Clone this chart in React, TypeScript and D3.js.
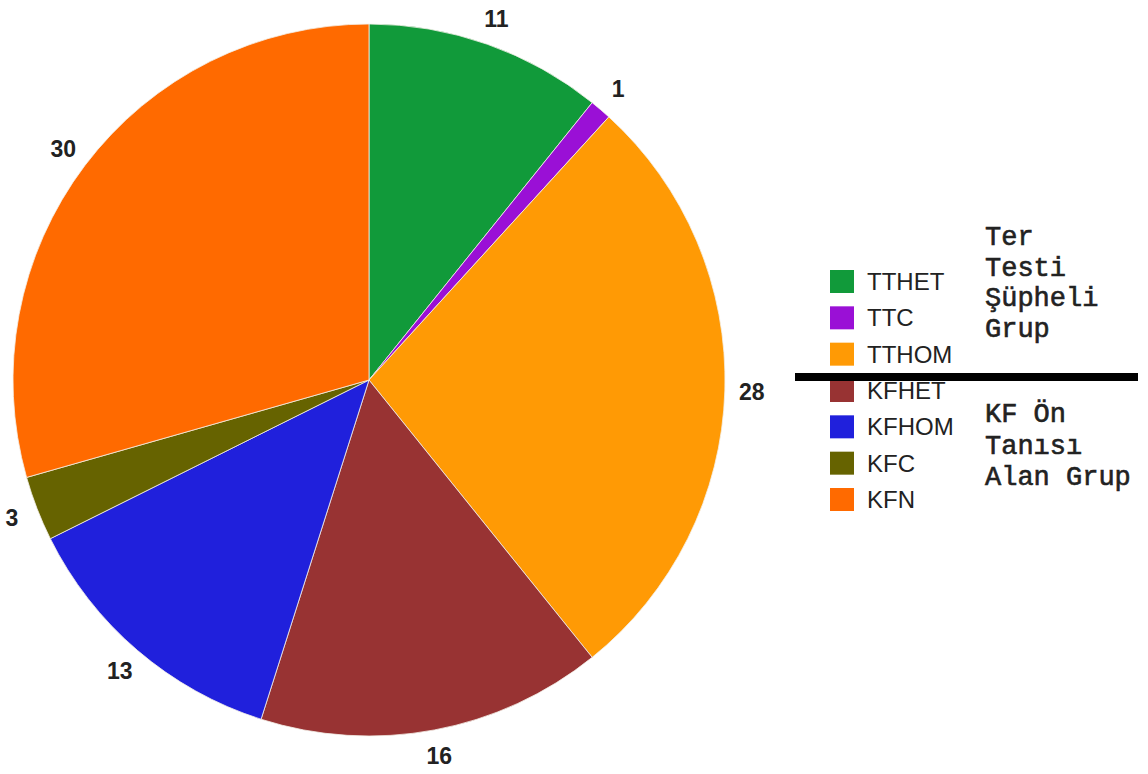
import React from "react";
import * as d3 from "d3";

const categories = ["TTHET", "TTC", "TTHOM", "KFHET", "KFHOM", "KFC", "KFN"];
const values = [11, 1, 28, 16, 13, 3, 30];
const colors = ["#119a3a", "#9a10d6", "#ff9a05", "#983333", "#2020dc", "#666300", "#ff6a00"];
const groupTop = ["Ter", "Testi", "Şüpheli", "Grup"];
const groupBottom = ["KF Ön", "Tanısı", "Alan Grup"];

const W = 1148;
const H = 774;
const cx = 369;
const cy = 380;
const R = 356;
const labelR = 383;

export default function App() {
  const data = categories.map((c, i) => ({ name: c, value: values[i], color: colors[i] }));
  const pie = d3.pie<any>().sort(null).value((d: any) => d.value).startAngle(0).endAngle(2 * Math.PI);
  const arcs = pie(data);
  const arc = d3.arc<any>().innerRadius(0).outerRadius(R);
  const labelArc = d3.arc<any>().innerRadius(labelR).outerRadius(labelR);

  const legendY = d3.scaleLinear().domain([0, categories.length - 1]).range([270, 488]);

  return (
    <div style={{ position: "fixed", left: 0, top: 0 }}>
      <svg width={W} height={H} style={{ display: "block", background: "#fff" }}>
        <g transform={`translate(${cx},${cy})`}>
          {arcs.map((a, i) => (
            <path key={i} d={arc(a) as string} fill={a.data.color} stroke="#f4f0e8" strokeWidth={0.8} />
          ))}
          {arcs.map((a, i) => {
            const [x, y] = labelArc.centroid(a);
            return (
              <text
                key={"l" + i}
                x={x}
                y={y}
                textAnchor="middle"
                dominantBaseline="central"
                fontFamily="Arial, 'Liberation Sans', sans-serif"
                fontWeight="bold"
                fontSize={23}
                fill="#222"
              >
                {a.data.value}
              </text>
            );
          })}
        </g>
        {categories.map((c, i) => (
          <g key={"lg" + i} transform={`translate(830,${legendY(i)})`}>
            <rect x={0} y={0} width={24} height={23} fill={colors[i]} />
            <text
              x={37}
              y={11.5}
              dominantBaseline="central"
              fontFamily="Arial, 'Liberation Sans', sans-serif"
              fontSize={24}
              fill="#222"
            >
              {c}
            </text>
          </g>
        ))}
        <line x1={795} x2={1138} y1={377} y2={377} stroke="#000" strokeWidth={8} />
        {groupTop.map((t, i) => (
          <text
            key={"gt" + i}
            x={985}
            y={245 + i * 30.5}
            fontFamily="'Courier New', 'Liberation Mono', monospace"
            fontSize={27}
            fill="#222"
            stroke="#222"
            strokeWidth={0.6}
          >
            {t}
          </text>
        ))}
        {groupBottom.map((t, i) => (
          <text
            key={"gb" + i}
            x={985}
            y={422 + i * 31.5}
            fontFamily="'Courier New', 'Liberation Mono', monospace"
            fontSize={27}
            fill="#222"
            stroke="#222"
            strokeWidth={0.6}
          >
            {t}
          </text>
        ))}
      </svg>
    </div>
  );
}
